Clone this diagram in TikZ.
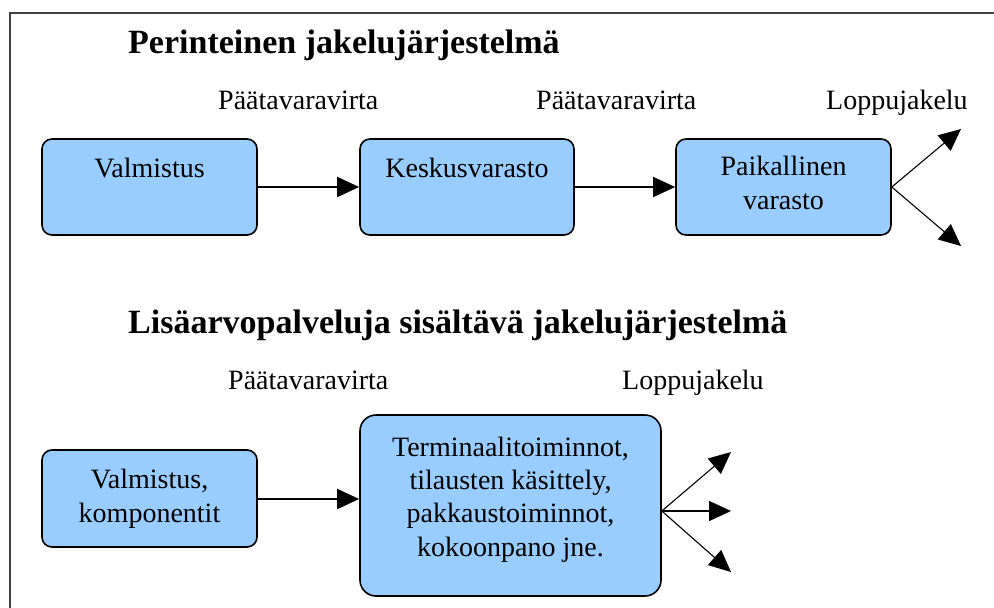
\documentclass[tikz,border=0pt]{standalone}
\usepackage{fontspec}
\setmainfont{Liberation Serif}
\usetikzlibrary{arrows.meta}
\definecolor{boxblue}{HTML}{99CCFF}
\definecolor{framegray}{HTML}{404040}
\tikzset{
  box/.style={draw=black, line width=1.6pt, fill=boxblue, rounded corners=10pt, inner sep=0pt},
  lbl/.style={inner sep=0pt, font=\fontsize{28}{33.3}\selectfont, align=center},
  ttl/.style={inner sep=0pt, font=\fontsize{34}{40}\selectfont\bfseries},
  flow/.style={line width=1.6pt, -{Triangle[length=22pt,width=20pt]}},
  fork/.style={line width=1.1pt, -{Triangle[length=22pt,width=20pt]}},
}
\begin{document}
\begin{tikzpicture}[x=1pt,y=-1pt]
\useasboundingbox (0,0) rectangle (994,608);
\fill[white] (0,0) rectangle (994,608);
% frame (top and left edges visible)
\draw[framegray, line width=2pt] (10,608) -- (10,13) -- (994,13);

% ---- traditional system ----
\node[ttl, anchor=base west] (t1) at (128,53) {Perinteinen jakelujärjestelmä};
\node[lbl, anchor=base west] (l1) at (218,109) {Päätavaravirta};
\node[lbl, anchor=base west] (l2) at (536,109) {Päätavaravirta};
\node[lbl, anchor=base west] (l3) at (826,109) {Loppujakelu};

\node[box, minimum width=215pt, minimum height=96pt] (b1) at (149.5,187) {};
\node[box, minimum width=214pt, minimum height=96pt] (b2) at (467,187) {};
\node[box, minimum width=215pt, minimum height=96pt] (b3) at (783.5,187) {};
\node[lbl, anchor=base] (b1t) at (149.5,177) {Valmistus};
\node[lbl, anchor=base] (b2t) at (467,177) {Keskusvarasto};
\node[lbl, anchor=base] (b3t) at (783.5,209) {Paikallinen\\varasto};

\coordinate (e1) at (961,129);
\coordinate (e2) at (961,246);
\draw[flow] (b1.east) -- (b2.west);
\draw[flow] (b2.east) -- (b3.west);
\draw[fork] (b3.east) -- (e1);
\draw[fork] (b3.east) -- (e2);

% ---- value-added system ----
\node[ttl, anchor=base west] (t2) at (128,333) {Lisäarvopalveluja sisältävä jakelujärjestelmä};
\node[lbl, anchor=base west] (l4) at (228,389) {Päätavaravirta};
\node[lbl, anchor=base west] (l5) at (622,389) {Loppujakelu};

\node[box, minimum width=215pt, minimum height=97pt] (c1) at (149.5,498.5) {};
\node[box, minimum width=301pt, minimum height=181pt, rounded corners=16pt] (c2) at (510.5,505.5) {};
\node[lbl, anchor=base] (c1t) at (149.5,522) {Valmistus,\\komponentit};
\node[lbl, anchor=base] (c2t) at (510.5,556) {Terminaalitoiminnot,\\tilausten käsittely,\\pakkaustoiminnot,\\kokoonpano jne.};

\coordinate (f1) at (731,452);
\coordinate (f2) at (731,511);
\coordinate (f3) at (731,572);
\draw[flow] (c1.east |- 0,499) -- (c2.west |- 0,499);
\draw[fork] (c2.east |- 0,511) -- (f1);
\draw[flow] (c2.east |- 0,511) -- (f2);
\draw[fork] (c2.east |- 0,511) -- (f3);
\end{tikzpicture}
\end{document}
